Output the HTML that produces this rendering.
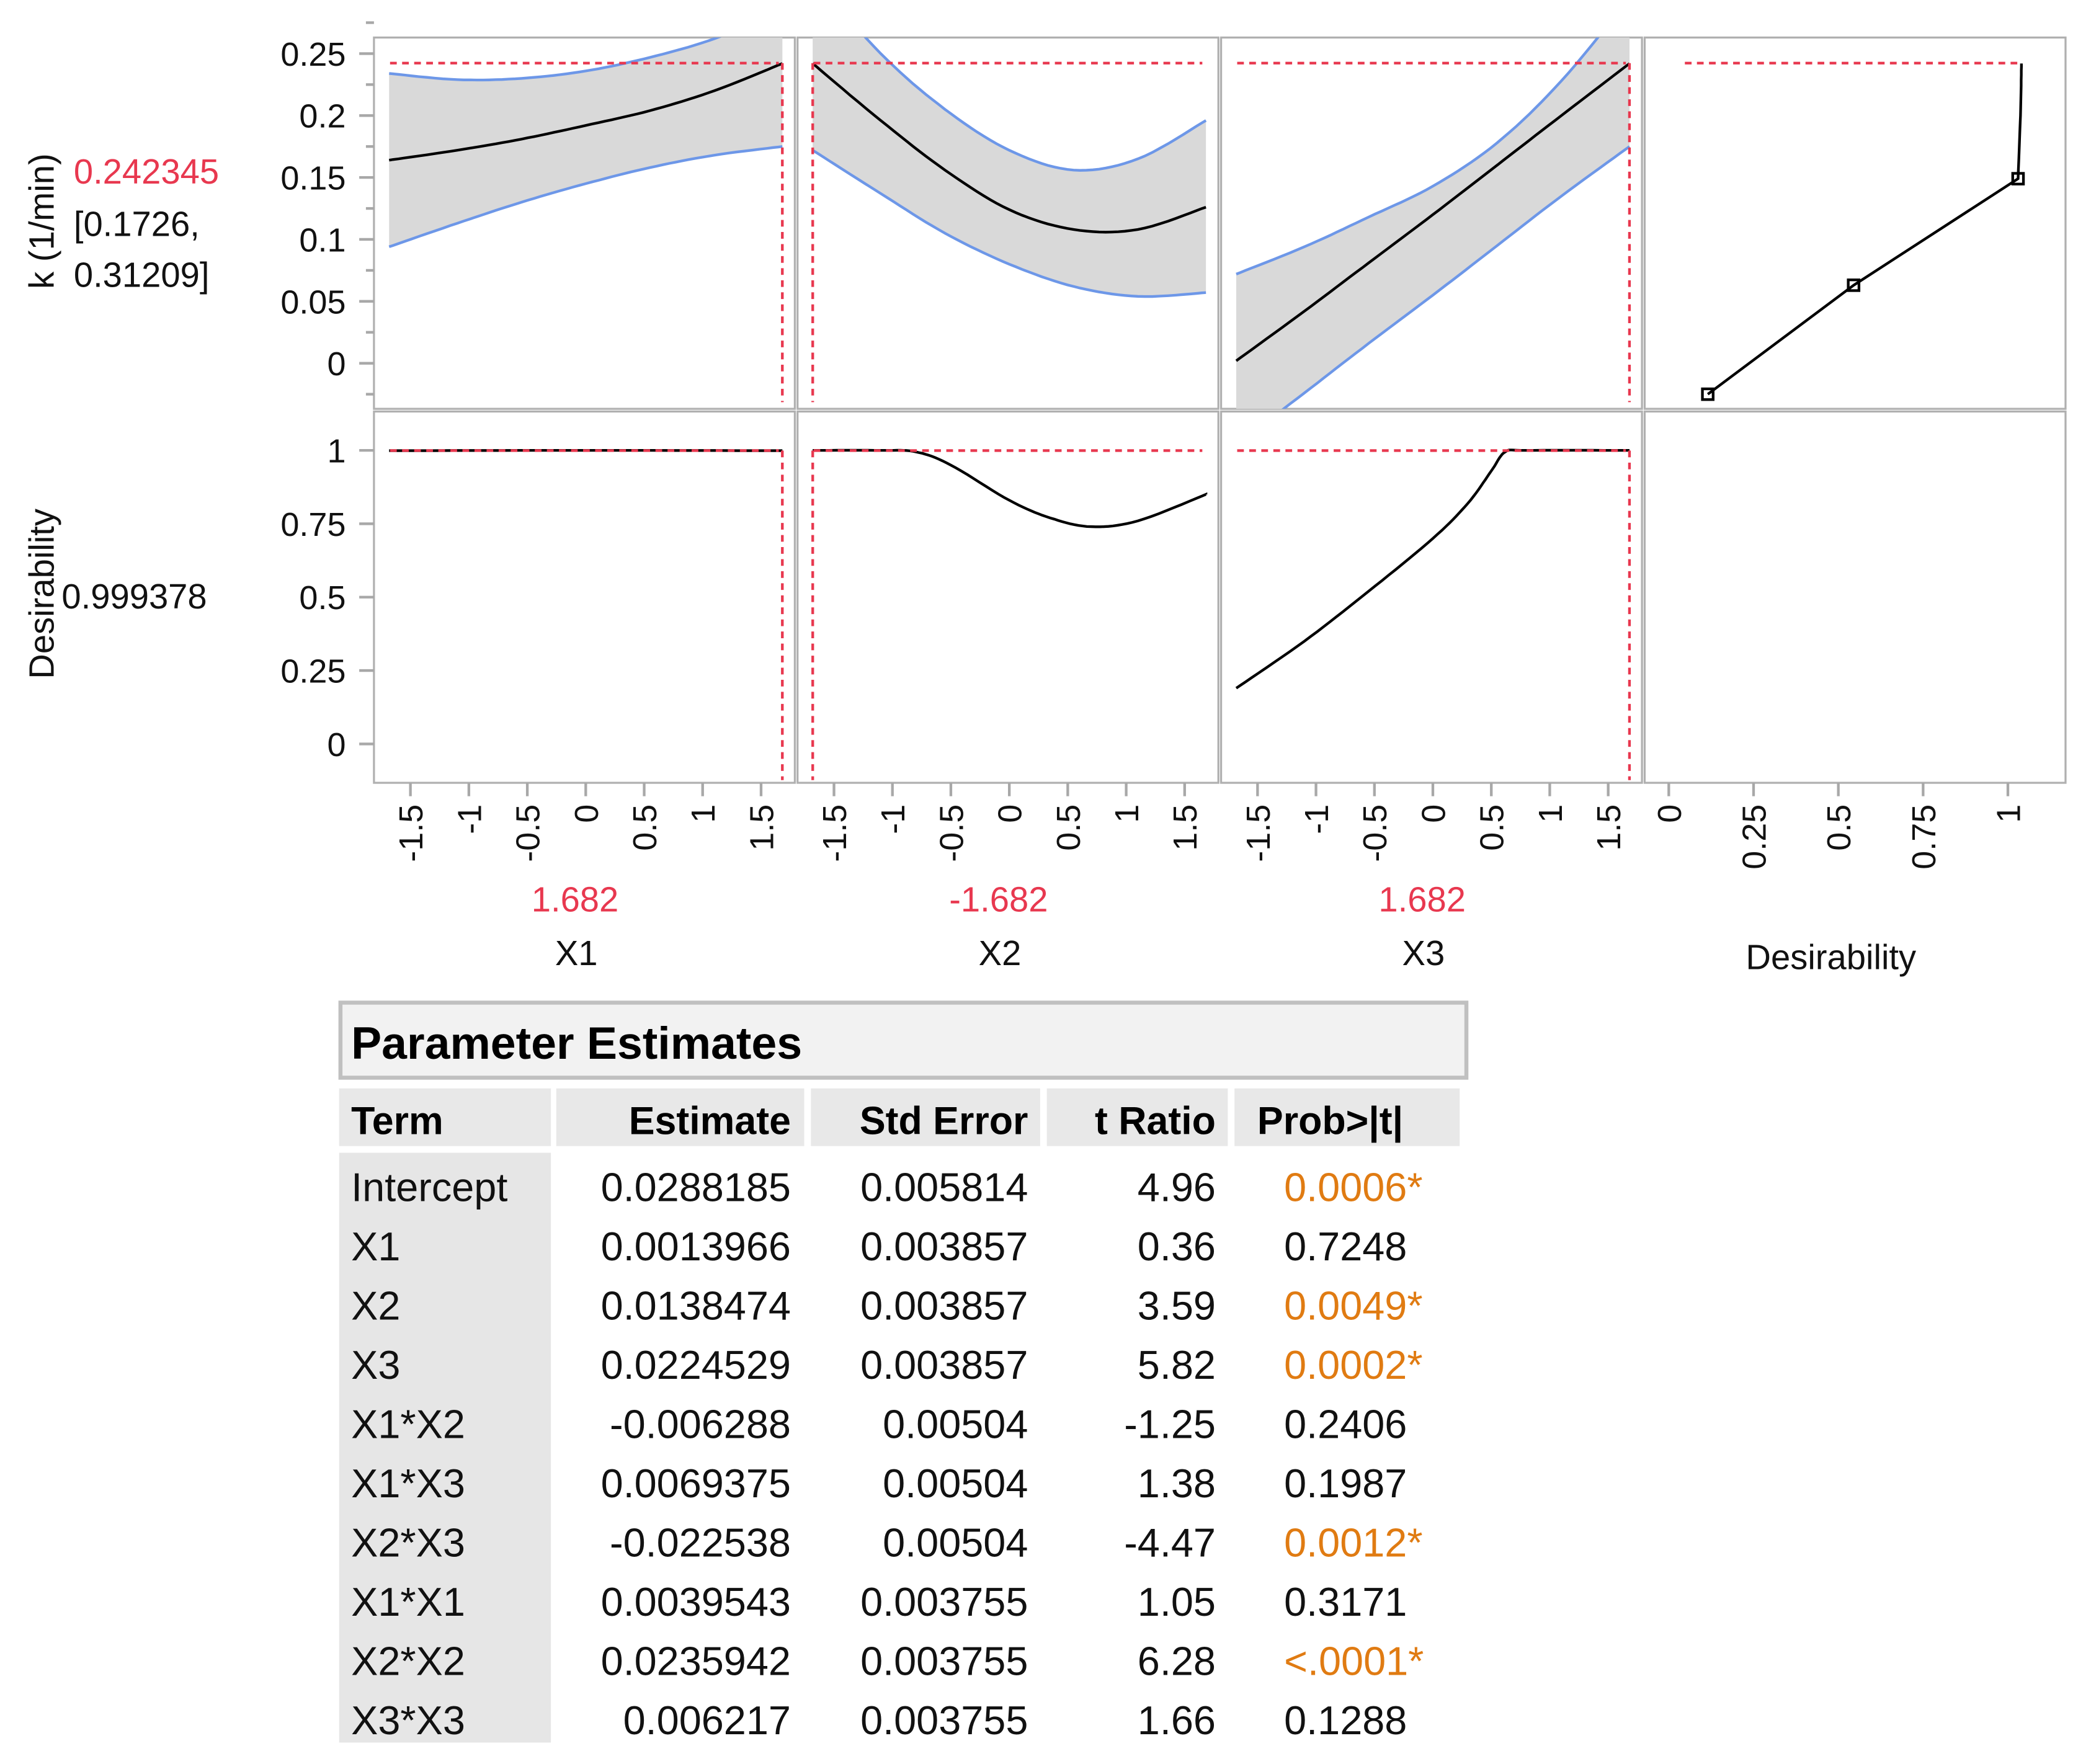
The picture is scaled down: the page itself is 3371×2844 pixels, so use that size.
<!DOCTYPE html>
<html><head><meta charset="utf-8"><style>
html,body{margin:0;padding:0;background:#fff;}
svg{display:block;}
text{font-family:"Liberation Sans",sans-serif;}
</style></head><body>
<svg id="chart" width="3371" height="2844" viewBox="0 0 1560 1316" preserveAspectRatio="none" xmlns="http://www.w3.org/2000/svg">
<defs>
<clipPath id="c0"><rect x="279" y="28" width="314" height="277"/></clipPath>
<clipPath id="c1"><rect x="595" y="28" width="314" height="277"/></clipPath>
<clipPath id="c2"><rect x="911" y="28" width="314" height="277"/></clipPath>
<clipPath id="c3"><rect x="1227" y="28" width="314" height="277"/></clipPath>
</defs>
<g id="g"></g>
</svg>
<script>
// ---- data ----
const xGrid = [-1.682,-1.1,-0.55,0,0.55,1.1,1.682];
const kX1Mid = [0.164,0.172,0.181,0.192,0.204,0.220,0.242];
const kX1Up  = [0.234,0.229,0.230,0.236,0.247,0.262,0.285];
const kX1Lo  = [0.094,0.113,0.130,0.145,0.158,0.168,0.175];
const kX2Mid = [0.242,0.196,0.156,0.124,0.108,0.108,0.126];
const kX2Up  = [0.312,0.250,0.205,0.172,0.156,0.165,0.196];
const kX2Lo  = [0.172,0.137,0.105,0.080,0.062,0.054,0.057];
const kX3Mid = [0.002,0.042,0.081,0.120,0.160,0.200,0.242];
const kX3Up  = [0.072,0.094,0.118,0.143,0.178,0.228,0.295];
const kX3Lo  = [-0.066,-0.024,0.016,0.055,0.095,0.135,0.175];
const dX1x = [-1.682,0,1.682];
const dX1  = [0.999,1.0,0.999];
const dX2x = [-1.682,-1.1,-0.8,-0.5,0,0.35,0.7,1.1,1.682];
const dX2  = [1,1,0.995,0.95,0.83,0.77,0.74,0.76,0.85];
const dX3x = [-1.682,-1.1,-0.55,0,0.3,0.5,0.62,0.8,1.682];
const dX3  = [0.19,0.35,0.52,0.70,0.82,0.93,0.995,1,1];
const desPtsD = [0.115,0.545,1.03];
const desPtsK = [-0.025,0.063,0.149];
const desTailD = [1.03,1.037,1.04];
const desTailK = [0.149,0.20,0.242];
const currentK = 0.242345, currentD = 0.999378;
const currentX = [1.682,-1.682,1.682];
const kTicks = [0,0.05,0.1,0.15,0.2,0.25];
const kTickLabels = ["0","0.05","0.1","0.15","0.2","0.25"];
const dTicks = [0,0.25,0.5,0.75,1];
const dTickLabels = ["0","0.25","0.5","0.75","1"];
const xTicks = [-1.5,-1,-0.5,0,0.5,1,1.5];
const xTickLabels = ["-1.5","-1","-0.5","0","0.5","1","1.5"];
const desTicks = [0,0.25,0.5,0.75,1];
const desTickLabels = ["0","0.25","0.5","0.75","1"];
const terms = ["Intercept","X1","X2","X3","X1*X2","X1*X3","X2*X3","X1*X1","X2*X2","X3*X3"];
const estimates = ["0.0288185","0.0013966","0.0138474","0.0224529","-0.006288","0.0069375","-0.022538","0.0039543","0.0235942","0.006217"];
const stdErrors = ["0.005814","0.003857","0.003857","0.003857","0.00504","0.00504","0.00504","0.003755","0.003755","0.003755"];
const tRatios = ["4.96","0.36","3.59","5.82","-1.25","1.38","-4.47","1.05","6.28","1.66"];
const probs = ["0.0006*","0.7248","0.0049*","0.0002*","0.2406","0.1987","0.0012*","0.3171","<.0001*","0.1288"];

// ---- helpers ----
const NS="http://www.w3.org/2000/svg";
const G=document.getElementById('g');
function mk(tag,attrs,parent){const e=document.createElementNS(NS,tag);for(const k in attrs)e.setAttribute(k,attrs[k]);(parent||G).appendChild(e);return e;}
const panelX=[279,595,911,1227], PW=314;
const xc=i=>v=>panelX[i]+158+v*87.2;
const yK=v=>271-v*924;
const yD=v=>555-v*219;
const xDes=v=>1245+v*253;
function cr(xs,ys){const p=[];for(let i=0;i<xs.length-1;i++){const x0=xs[Math.max(i-1,0)],y0=ys[Math.max(i-1,0)],x1=xs[i],y1=ys[i],x2=xs[i+1],y2=ys[i+1],x3=xs[Math.min(i+2,xs.length-1)],y3=ys[Math.min(i+2,xs.length-1)];for(let t=0;t<1;t+=0.1){const t2=t*t,t3=t2*t;p.push([0.5*((2*x1)+(-x0+x2)*t+(2*x0-5*x1+4*x2-x3)*t2+(-x0+3*x1-3*x2+x3)*t3),0.5*((2*y1)+(-y0+y2)*t+(2*y0-5*y1+4*y2-y3)*t2+(-y0+3*y1-3*y2+y3)*t3)]);}}p.push([xs[xs.length-1],ys[ys.length-1]]);return p;}
const ps=p=>p.map(q=>q[0].toFixed(1)+','+q[1].toFixed(1)).join(' ');

// frames
for(let i=0;i<4;i++){for(let r=0;r<2;r++){const f=mk('rect',{x:panelX[i],y:r?307:28,width:PW,height:277,fill:'none',stroke:'#b0b0b0','stroke-width':1.5});

}}

// top row bands & curves
const bands=[[kX1Up,kX1Lo,kX1Mid],[kX2Up,kX2Lo,kX2Mid],[kX3Up,kX3Lo,kX3Mid]];
bands.forEach((b,i)=>{const X=xc(i);const xs=xGrid.map(X);
const up=cr(xs,b[0].map(yK)), lo=cr(xs,b[1].map(yK)), mid=cr(xs,b[2].map(yK));
const g=mk('g',{'clip-path':`url(#c${i})`});
const band=mk('polygon',{points:ps(up.concat(lo.slice().reverse())),fill:'#d9d9d9'},g);


[up,lo].forEach(c=>{const l=mk('polyline',{points:ps(c),fill:'none',stroke:'#6d97e8','stroke-width':2},g);

});
const m=mk('polyline',{points:ps(mid),fill:'none',stroke:'#000','stroke-width':2},g);

});

// bottom desirability curves
[[dX1x,dX1],[dX2x,dX2],[dX3x,dX3]].forEach((d,i)=>{const X=xc(i);
const l=mk('polyline',{points:ps(cr(d[0].map(X),d[1].map(yD))),fill:'none',stroke:'#000','stroke-width':2});

});

// desirability function panel
const dl=mk('polyline',{points:ps(desPtsD.map((d,j)=>[xDes(d),yK(desPtsK[j])]).concat(cr(desTailD.map(xDes),desTailK.map(yK)))),fill:'none',stroke:'#000','stroke-width':2,'clip-path':'url(#c3)'});


desPtsD.forEach((d,j)=>{const s=mk('rect',{x:xDes(d)-4,y:yK(desPtsK[j])-4,width:8,height:8,fill:'none',stroke:'#000','stroke-width':2});

});

// red dashed reference lines
const red='#e8384f';
for(let i=0;i<3;i++){const X=xc(i)(currentX[i]);
const h1=mk('line',{x1:panelX[i]+12,x2:panelX[i]+PW-12,y1:yK(currentK),y2:yK(currentK),stroke:red,'stroke-width':2,'stroke-dasharray':'5,4'});


const h2=mk('line',{x1:panelX[i]+12,x2:panelX[i]+PW-12,y1:yD(currentD),y2:yD(currentD),stroke:red,'stroke-width':2,'stroke-dasharray':'5,4'});


[[yK(currentK),300],[yD(currentD),582]].forEach(s=>{const v=mk('line',{x1:X,x2:X,y1:s[0],y2:s[1],stroke:red,'stroke-width':2,'stroke-dasharray':'5,4'});

});}
const h4=mk('line',{x1:1257,x2:xDes(desTailD[2]),y1:yK(currentK),y2:yK(currentK),stroke:red,'stroke-width':2,'stroke-dasharray':'5,4'});



// y axes
function txt(s,a,name,inter){const t=mk('text',a);t.textContent=s;return t;}
kTicks.forEach((v,j)=>{mk('line',{x1:268,x2:279,y1:yK(v),y2:yK(v),stroke:'#a8a8a8','stroke-width':2});
txt(kTickLabels[j],{x:258,y:yK(v)+9,'font-size':25,'text-anchor':'end',fill:'#111'},'k-tick-label');
mk('line',{x1:273,x2:279,y1:yK(v+0.025),y2:yK(v+0.025),stroke:'#a8a8a8','stroke-width':2});});
mk('line',{x1:273,x2:279,y1:yK(-0.025),y2:yK(-0.025),stroke:'#a8a8a8','stroke-width':2});
dTicks.forEach((v,j)=>{mk('line',{x1:268,x2:279,y1:yD(v),y2:yD(v),stroke:'#a8a8a8','stroke-width':2});
txt(dTickLabels[j],{x:258,y:yD(v)+9,'font-size':25,'text-anchor':'end',fill:'#111'},'desirability-tick-label');});

// x axes
for(let i=0;i<3;i++){const X=xc(i);xTicks.forEach((v,j)=>{mk('line',{x1:X(v),x2:X(v),y1:584,y2:594,stroke:'#a8a8a8','stroke-width':2});
txt(xTickLabels[j],{x:0,y:0,transform:`translate(${X(v)+9},600) rotate(-90)`,'font-size':25,'text-anchor':'end',fill:'#111'},'x'+(i+1)+'-tick-label');});
txt(currentX[i].toFixed(3),{x:X(0)-8,y:680,'font-size':26,'text-anchor':'middle',fill:red},'x'+(i+1)+'-current-value','true');
txt('X'+(i+1),{x:X(0)-7,y:720,'font-size':26,'text-anchor':'middle',fill:'#111'},'x'+(i+1)+'-axis-title');}
desTicks.forEach((v,j)=>{mk('line',{x1:xDes(v),x2:xDes(v),y1:584,y2:594,stroke:'#a8a8a8','stroke-width':2});
txt(desTickLabels[j],{x:0,y:0,transform:`translate(${xDes(v)+9},600) rotate(-90)`,'font-size':25,'text-anchor':'end',fill:'#111'},'desirability-x-tick-label');});
txt('Desirability',{x:1366,y:723,'font-size':26,'text-anchor':'middle',fill:'#111'},'desirability-x-axis-title');

// left labels
txt('k (1/min)',{x:0,y:0,transform:'translate(40,165) rotate(-90)','font-size':26,'text-anchor':'middle',fill:'#111'},'k-axis-title');
txt(String(currentK),{x:55,y:137,'font-size':26,fill:red},'current-k-value');
txt('[0.1726,',{x:55,y:176,'font-size':26,fill:'#111'},'k-ci-lower');
txt('0.31209]',{x:55,y:214,'font-size':26,fill:'#111'},'k-ci-upper');
txt('Desirability',{x:0,y:0,transform:'translate(40,443) rotate(-90)','font-size':26,'text-anchor':'middle',fill:'#111'},'desirability-axis-title');
txt(String(currentD),{x:46,y:454,'font-size':26,fill:'#111'},'current-desirability-value');

// table
const tb=mk('rect',{x:254,y:748,width:840,height:56,fill:'#f2f2f2',stroke:'#c0c0c0','stroke-width':3});


txt('Parameter Estimates',{x:262,y:790,'font-size':34,'font-weight':'bold',fill:'#000'},'table-title','true');
const cols=[[253,411],[415,600],[605,776],[781,916],[921,1089]];
cols.forEach(c=>mk('rect',{x:c[0],y:812,width:c[1]-c[0],height:43,fill:'#e8e8e8'}));
mk('rect',{x:253,y:860,width:158,height:440,fill:'#e6e6e6'});
const hdr=['Term','Estimate','Std Error','t Ratio','Prob>|t|'];
const hx=[[262,'start'],[590,'end'],[767,'end'],[907,'end'],[938,'start']];
hdr.forEach((h,j)=>txt(h,{x:hx[j][0],y:846,'font-size':29,'font-weight':'bold','text-anchor':hx[j][1],fill:'#000'},'column-header'));
terms.forEach((t,r)=>{const y=896+r*44.2;
txt(t,{x:262,y:y,'font-size':30,fill:'#111'},'term-cell');
txt(estimates[r],{x:590,y:y,'font-size':30,'text-anchor':'end',fill:'#111'},'estimate-cell');
txt(stdErrors[r],{x:767,y:y,'font-size':30,'text-anchor':'end',fill:'#111'},'std-error-cell');
txt(tRatios[r],{x:907,y:y,'font-size':30,'text-anchor':'end',fill:'#111'},'t-ratio-cell');
txt(probs[r],{x:958,y:y,'font-size':30,fill:probs[r].includes('*')?'#e07b12':'#111'},'prob-cell');});
</script>
</body></html>
